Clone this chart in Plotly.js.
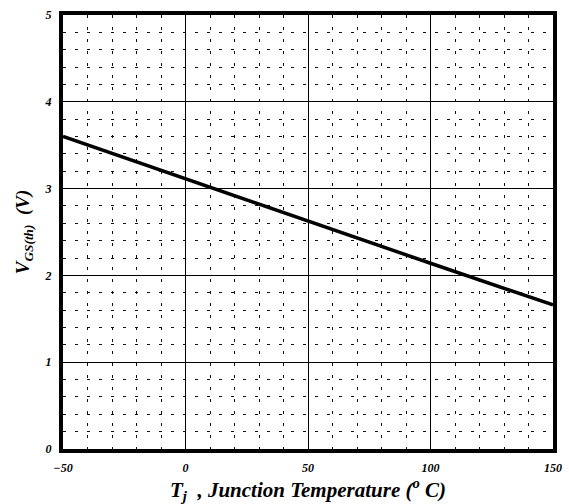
<!DOCTYPE html>
<html>
<head>
<meta charset="utf-8">
<script src="https://cdn.plot.ly/plotly-3.0.1.min.js"></script>
<style>html,body{margin:0;padding:0;background:#fff;}#chart{width:569px;height:504px;}</style>
</head>
<body>
<div id="chart"></div>
<script>
const tempC = [-50, 0, 50, 100, 150];
const vgsth = [3.60, 3.11, 2.63, 2.14, 1.66];
const xTicks = [-50, 0, 50, 100, 150];
const yTicks = [0, 1, 2, 3, 4, 5];

const serif = 'Liberation Serif, Times New Roman, serif';
const data = [{
  x: tempC, y: vgsth, type: 'scatter', mode: 'lines',
  line: {color: '#000', width: 3.5}, hoverinfo: 'skip'
}];
const layout = {
  width: 569, height: 504,
  margin: {l: 63, r: 16, t: 15, b: 55},
  paper_bgcolor: '#fff', plot_bgcolor: '#fff',
  showlegend: false,
  xaxis: {
    range: [-50, 150], tickvals: xTicks, ticks: '',
    showgrid: true, gridcolor: '#000', gridwidth: 1,
    zeroline: false,
    showline: true, linecolor: '#000', linewidth: 4, mirror: true,
    minor: {dtick: 10, showgrid: true, gridcolor: '#111', gridwidth: 1, griddash: '3px,9px', ticks: ''},
    tickfont: {family: serif, size: 12, style: 'italic', weight: 'bold', color: '#000'},
    ticklabelstandoff: 5,
    title: {text: 'T<sub>j</sub>  , Junction Temperature (<sup>o</sup> C)', standoff: 8,
      font: {family: serif, size: 21, style: 'italic', weight: 'bold', color: '#000'}}
  },
  yaxis: {
    range: [0, 5], tickvals: yTicks, ticks: '',
    showgrid: true, gridcolor: '#000', gridwidth: 1,
    zeroline: false,
    showline: true, linecolor: '#000', linewidth: 4, mirror: true,
    minor: {dtick: 0.2, showgrid: true, gridcolor: '#111', gridwidth: 1, griddash: '3px,9px', ticks: ''},
    tickfont: {family: serif, size: 12, style: 'italic', weight: 'bold', color: '#000'},
    ticklabelstandoff: 5,
    title: {text: 'V<sub>GS(th)</sub>  (V)', standoff: 11,
      font: {family: serif, size: 19, style: 'italic', weight: 'bold', color: '#000'}}
  }
};
Plotly.newPlot('chart', data, layout, {staticPlot: true, displayModeBar: false});
</script>
</body>
</html>
